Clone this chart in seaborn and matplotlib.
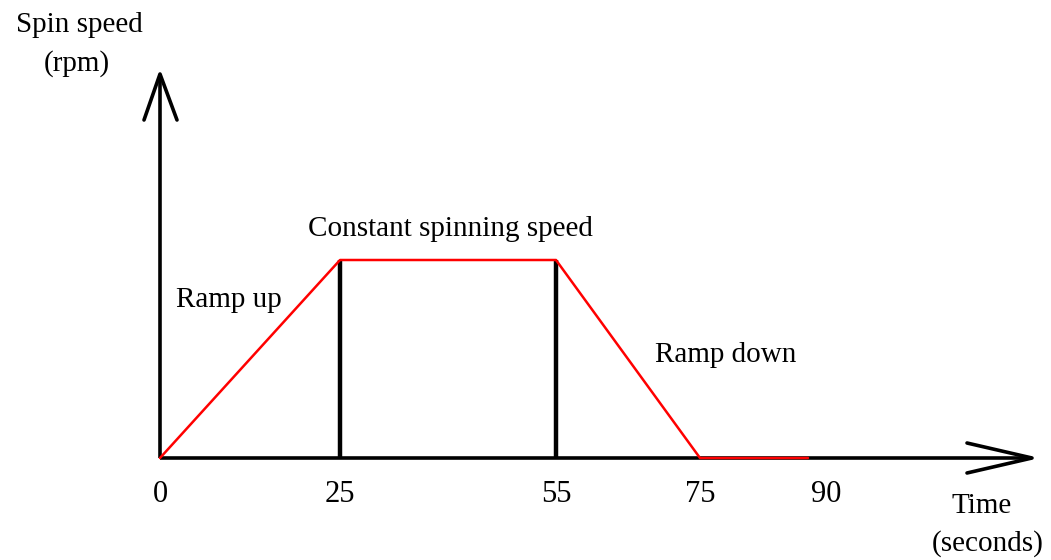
import matplotlib
matplotlib.use("Agg")
import matplotlib.pyplot as plt
import seaborn as sns

# Spin-coating profile: time (s) vs. normalised spin speed
time_s = [0, 25, 55, 75, 90]
speed = [0, 1, 1, 0, 0]
phase_bounds = [25, 55]
tick_values = [0, 25, 55, 75, 90]
tick_labels = ["0", "25", "55", "75", "90"]

sns.set_theme(style="white")
plt.rcParams["font.family"] = ["Liberation Serif", "DejaVu Serif"]
plt.rcParams["text.color"] = "black"

W, H = 1051, 560
fig = plt.figure(figsize=(W / 100, H / 100), dpi=100)
ax = fig.add_axes([0, 0, 1, 1])

# pixel geometry of the axes frame
x0_px, px_per_s = 160, 7.2
base_px, px_per_unit = 458, 198
ax.set_xlim(-x0_px / px_per_s, (W - x0_px) / px_per_s)
ax.set_ylim((base_px - H) / px_per_unit, base_px / px_per_unit)
ax.axis("off")

def px_x(d):
    return d / px_per_s

def px_y(d):
    return d / px_per_unit

def at(xp, yp):
    """Data position of a pixel location measured from the top-left corner."""
    return px_x(xp - x0_px), px_y(base_px - yp)

black_lw = 2.6
# axes drawn as open arrows
y_top = px_y(base_px - 74)
x_end = px_x(1032 - x0_px)
ax.plot([0, 0], [0, y_top], color="black", lw=black_lw, solid_capstyle="butt", zorder=2)
ax.plot([0, x_end], [0, 0], color="black", lw=black_lw, solid_capstyle="butt", zorder=2)
ax.plot([-px_x(16), 0, px_x(17)], [y_top - px_y(46), y_top, y_top - px_y(46)],
        color="black", lw=black_lw, zorder=2)
ax.plot([x_end - px_x(65), x_end, x_end - px_x(65)], [px_y(15), 0, -px_y(15)],
        color="black", lw=black_lw, zorder=2)

# phase boundaries
ax.vlines(phase_bounds, 0, max(speed), color="black", lw=3.2, zorder=3)

# speed profile
sns.lineplot(x=time_s, y=speed, color="red", lw=1.8, ax=ax, zorder=4)

fs = 21
tick_y = px_y(base_px - 495)
for v, lab in zip(tick_values, tick_labels):
    dx = px_x(18) if v == 90 else 0
    ax.text(v + dx, tick_y, lab, ha="center", va="center", fontsize=22)

labels = [
    ((79, 25), "Spin speed"),
    ((77, 64), "(rpm)"),
    ((450, 229), "Constant spinning speed"),
    ((229, 300), "Ramp up"),
    ((726, 355), "Ramp down"),
    ((982, 506), "Time"),
    ((988, 544), "(seconds)"),
]
for (xp, yp), txt in labels:
    ax.text(*at(xp, yp), txt, ha="center", va="center", fontsize=fs)

fig.savefig("out.png", dpi=100, facecolor="white")
